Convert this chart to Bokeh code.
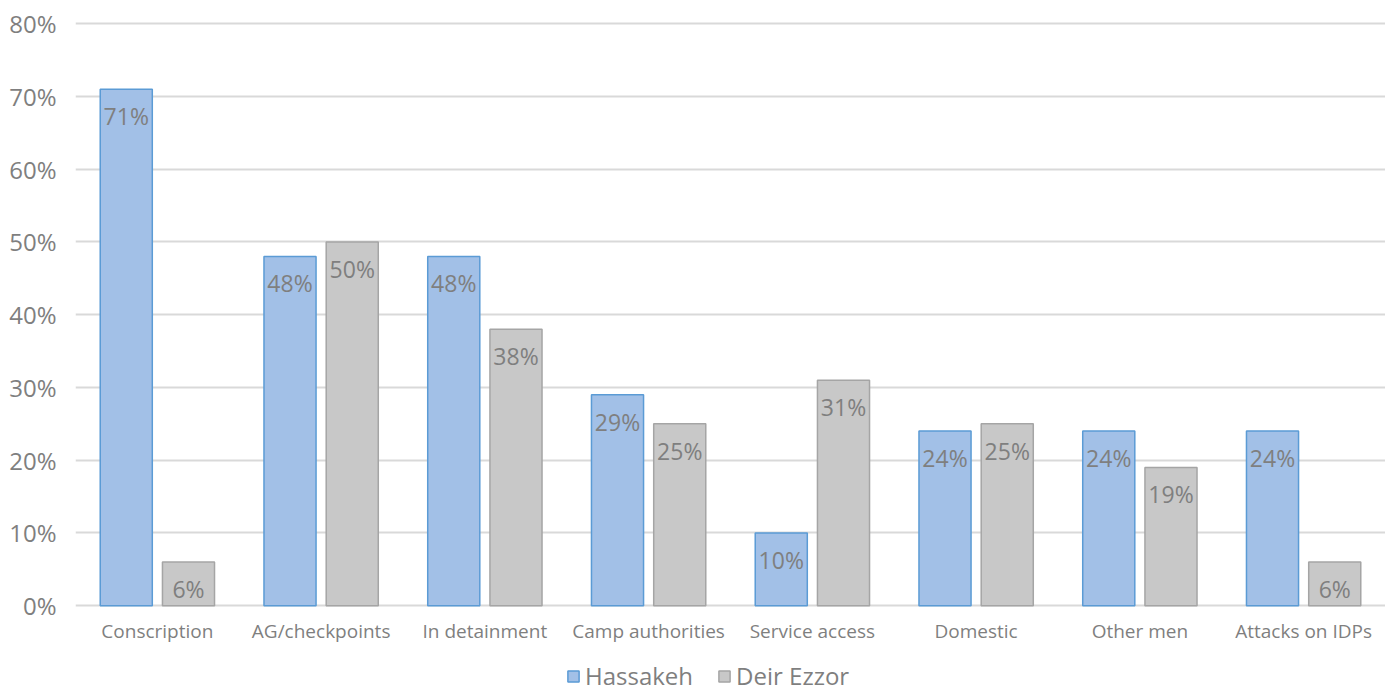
from bokeh.plotting import figure
from bokeh.models import ColumnDataSource, Legend, LegendItem, NumeralTickFormatter, FixedTicker, Range1d
from bokeh.transform import dodge
from bokeh.core.properties import value
from bokeh.embed import file_html
from bokeh.resources import INLINE

categories = ["Conscription", "AG/checkpoints", "In detainment", "Camp authorities",
              "Service access", "Domestic", "Other men", "Attacks on IDPs"]
hassakeh = [71, 48, 48, 29, 10, 24, 24, 24]
deir_ezzor = [6, 50, 38, 25, 31, 25, 19, 6]
y_ticks = [0, 10, 20, 30, 40, 50, 60, 70, 80]

FONT = "Open Sans"
TXT = "#7f7f7f"

src = ColumnDataSource(dict(
    cat=categories,
    h=hassakeh,
    d=deir_ezzor,
    base=[0] * len(categories),
    hl=[f"{v}%" for v in hassakeh],
    dl=[f"{v}%" for v in deir_ezzor],
))

# extra room under 0% (in data units) holds the category labels and legend
Y_BOTTOM = -11.93
Y_TOP = 80.3
p = figure(x_range=categories, y_range=Range1d(Y_BOTTOM, Y_TOP), width=1385, height=692,
           output_backend="svg", toolbar_location=None, x_axis_location=None,
           min_border_left=75, min_border_right=0, min_border_top=21, min_border_bottom=0)
p.outline_line_color = None
p.background_fill_color = "white"

r1 = p.vbar(x=dodge("cat", -0.19, range=p.x_range), top="h", width=0.318, source=src,
            fill_color="#a2c0e7", line_color="#5b9bd5", line_width=1.5)
r2 = p.vbar(x=dodge("cat", 0.19, range=p.x_range), top="d", width=0.318, source=src,
            fill_color="#c8c8c8", line_color="#a5a5a5", line_width=1.5)

p.text(x=dodge("cat", -0.19, range=p.x_range), y="h", text="hl", source=src,
       text_align="center", text_baseline="top", y_offset=11,
       text_font=value(FONT), text_font_size="23px", text_color=TXT)
p.text(x=dodge("cat", 0.19, range=p.x_range), y="d", text="dl", source=src,
       text_align="center", text_baseline="top", y_offset=11,
       text_font=value(FONT), text_font_size="23px", text_color=TXT)

# category labels under the baseline
p.text(x="cat", y="base", text="cat", source=src,
       text_align="center", text_baseline="middle", y_offset=25,
       text_font=value(FONT), text_font_size="19px", text_color=TXT)

p.xgrid.grid_line_color = None
p.ygrid.grid_line_color = "#d9d9d9"
p.ygrid.grid_line_width = 2
p.yaxis.ticker = FixedTicker(ticks=y_ticks)
p.yaxis.formatter = NumeralTickFormatter(format="0")
p.yaxis.major_label_overrides = {t: f"{t}%" for t in y_ticks}
p.yaxis.axis_line_color = None
p.yaxis.major_tick_line_color = None
p.yaxis.minor_tick_line_color = None
p.yaxis.major_label_text_font = FONT
p.yaxis.major_label_text_font_size = "24px"
p.yaxis.major_label_text_color = TXT
p.yaxis.major_label_standoff = 13

legend = Legend(items=[LegendItem(label="Hassakeh", renderers=[r1]),
                       LegendItem(label="Deir Ezzor", renderers=[r2])],
                orientation="horizontal", location=(491, 0),
                label_text_font=FONT, label_text_font_size="24px", label_text_color=TXT,
                glyph_width=14, glyph_height=14, spacing=24, label_standoff=5,
                border_line_color=None, background_fill_alpha=0, padding=0, margin=0)
p.add_layout(legend, "center")

open("out.html", "w").write(file_html(p, INLINE))
